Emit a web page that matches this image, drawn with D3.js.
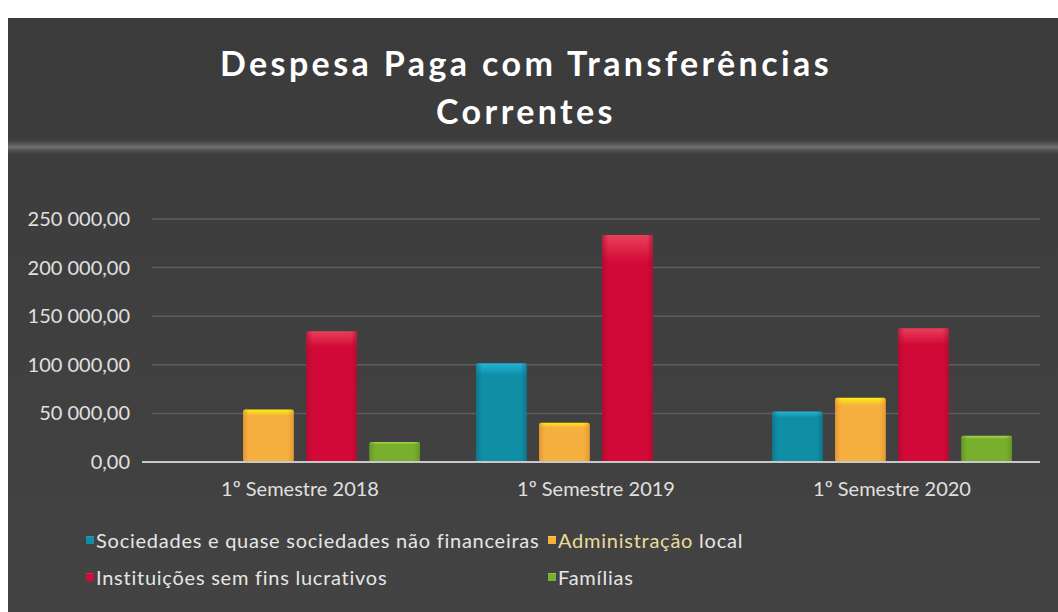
<!DOCTYPE html>
<html>
<head>
<meta charset="utf-8">
<script src="https://cdn.jsdelivr.net/npm/d3@7"></script>
<style>
  body { margin: 0; background: #fff; }
  svg { display: block; }
  text { font-family: Lato, "Open Sans", sans-serif; }
</style>
</head>
<body>
<div id="chart"></div>
<script>
const categories = ["1º Semestre 2018", "1º Semestre 2019", "1º Semestre 2020"];
const seriesNames = [
  "Sociedades e quase sociedades não financeiras",
  "Administração local",
  "Instituições sem fins lucrativos",
  "Famílias"
];
const sociedades = [0, 101500, 52000];
const administracao = [54000, 40500, 66000];
const instituicoes = [134500, 233500, 137500];
const familias = [20500, 0, 27000];
const yTicks = [0, 50000, 100000, 150000, 200000, 250000];

const seriesValues = [sociedades, administracao, instituicoes, familias];
const colors = [
  { top: "#22b6d6", base: "#0f8ea6", dark: "#0a6a80" },
  { top: "#ffee10", base: "#f5b040", dark: "#e08a2a" },
  { top: "#e8405a", base: "#d20a38", dark: "#a8062a" },
  { top: "#a8d84a", base: "#78b02e", dark: "#5a8a20" }
];

const W = 1058, H = 612;
const margin = { top: 219, right: 18, bottom: 150, left: 152 };
const width = W - margin.left - margin.right;
const height = H - margin.top - margin.bottom;

const svg = d3.select("#chart").append("svg")
  .attr("width", W)
  .attr("height", H);

const defs = svg.append("defs");

const bg = defs.append("linearGradient").attr("id", "bg")
  .attr("x1", 0).attr("y1", 0).attr("x2", 0).attr("y2", 1);
bg.append("stop").attr("offset", "0%").attr("stop-color", "#3b3b3b");
bg.append("stop").attr("offset", "100%").attr("stop-color", "#434343");

const band = defs.append("linearGradient").attr("id", "band")
  .attr("x1", 0).attr("y1", 0).attr("x2", 0).attr("y2", 1);
band.append("stop").attr("offset", "0%").attr("stop-color", "#444").attr("stop-opacity", 0);
band.append("stop").attr("offset", "50%").attr("stop-color", "#727272");
band.append("stop").attr("offset", "100%").attr("stop-color", "#444").attr("stop-opacity", 0);

colors.forEach((c, i) => {
  const g = defs.append("linearGradient").attr("id", "bar" + i)
    .attr("x1", 0).attr("y1", 0).attr("x2", 0).attr("y2", 1);
  g.append("stop").attr("offset", "0%").attr("stop-color", c.top);
  g.append("stop").attr("offset", "12%").attr("stop-color", c.base);
  g.append("stop").attr("offset", "100%").attr("stop-color", c.base);
  const s = defs.append("linearGradient").attr("id", "side" + i)
    .attr("x1", 0).attr("y1", 0).attr("x2", 1).attr("y2", 0);
  s.append("stop").attr("offset", "0%").attr("stop-color", c.dark).attr("stop-opacity", 0.6);
  s.append("stop").attr("offset", "12%").attr("stop-color", c.dark).attr("stop-opacity", 0);
  s.append("stop").attr("offset", "88%").attr("stop-color", c.dark).attr("stop-opacity", 0);
  s.append("stop").attr("offset", "100%").attr("stop-color", c.dark).attr("stop-opacity", 0.6);
});

// background panel
svg.append("rect")
  .attr("x", 8).attr("y", 18)
  .attr("width", W - 8).attr("height", H - 18)
  .attr("fill", "url(#bg)");
svg.append("rect")
  .attr("x", 8).attr("y", 138)
  .attr("width", W - 8).attr("height", 18)
  .attr("fill", "url(#band)");

// title
const title = svg.append("text")
  .attr("x", 526)
  .attr("text-anchor", "middle")
  .attr("fill", "#fff")
  .style("font-size", "34px")
  .style("font-weight", "bold")
  .style("letter-spacing", "3.4px");
title.append("tspan").attr("x", 526).attr("y", 76).text("Despesa Paga com Transferências");
title.append("tspan").attr("x", 526).attr("y", 124).text("Correntes");

const g = svg.append("g")
  .attr("transform", `translate(${margin.left},${margin.top})`);

const y = d3.scaleLinear()
  .domain([0, 250000])
  .range([height, 0]);

const x0 = d3.scaleBand()
  .domain(categories)
  .range([0, width])
  .paddingInner(0.19)
  .paddingOuter(0.095);

const x1 = d3.scaleBand()
  .domain(d3.range(seriesNames.length))
  .range([0, x0.bandwidth()])
  .paddingInner(0.2);

const fmt = v => {
  const s = d3.format(",.2f")(v);
  return s.replace(/,/g, " ").replace(".", ",");
};

// grid
g.append("g")
  .selectAll("line")
  .data(yTicks.filter(d => d > 0))
  .enter().append("line")
  .attr("x1", 0).attr("x2", width)
  .attr("y1", d => y(d)).attr("y2", d => y(d))
  .attr("stroke", "#5e5e5e")
  .attr("stroke-width", 1.5);

// y axis labels
const yAxis = d3.axisLeft(y)
  .tickValues(yTicks)
  .tickFormat(fmt)
  .tickSize(0)
  .tickPadding(22);
const ya = g.append("g").call(yAxis);
ya.select(".domain").remove();
ya.selectAll("text")
  .attr("fill", "#e0e0e0")
  .style("font-size", "20px")
  .style("font-family", "Lato, sans-serif");

// bars
const groups = g.selectAll(".grp")
  .data(categories)
  .enter().append("g")
  .attr("transform", d => `translate(${x0(d)},0)`);

groups.each(function(cat, ci) {
  const data = seriesValues.map((vals, si) => ({ si, v: vals[ci] })).filter(d => d.v > 0);
  const sel = d3.select(this).selectAll("g.bar")
    .data(data)
    .enter().append("g");
  sel.append("rect")
    .attr("x", d => x1(d.si))
    .attr("y", d => y(d.v))
    .attr("width", x1.bandwidth())
    .attr("height", d => height - y(d.v))
    .attr("rx", 2)
    .attr("fill", d => `url(#bar${d.si})`);
  sel.append("rect")
    .attr("x", d => x1(d.si))
    .attr("y", d => y(d.v))
    .attr("width", x1.bandwidth())
    .attr("height", d => height - y(d.v))
    .attr("rx", 2)
    .attr("fill", d => `url(#side${d.si})`);
});

// baseline
g.append("line")
  .attr("x1", -10).attr("x2", width)
  .attr("y1", height).attr("y2", height)
  .attr("stroke", "#c8c8c8")
  .attr("stroke-width", 2);

// x axis labels
const xAxis = d3.axisBottom(x0).tickSize(0).tickPadding(20);
const xa = g.append("g").attr("transform", `translate(0,${height})`).call(xAxis);
xa.select(".domain").remove();
xa.selectAll("text")
  .attr("fill", "#e0e0e0")
  .style("font-size", "20px")
  .style("font-family", "Lato, sans-serif");

// legend
const legendPos = [[86, 548], [548, 548], [86, 585], [548, 585]];
const legend = svg.append("g");
seriesNames.forEach((name, i) => {
  const [lx, ly] = legendPos[i];
  legend.append("rect")
    .attr("x", lx).attr("y", ly - 12)
    .attr("width", 8).attr("height", 8)
    .attr("fill", `url(#bar${i})`);
  const t = legend.append("text")
    .attr("x", lx + 10).attr("y", ly)
    .attr("fill", "#e6e6e6")
    .style("font-size", "20px")
    .style("letter-spacing", "0.75px");
  if (i === 1) {
    t.append("tspan").attr("fill", "#eadc9a").text("Administração");
    t.append("tspan").text(" local");
  } else {
    t.text(name);
  }
});
</script>
</body>
</html>
